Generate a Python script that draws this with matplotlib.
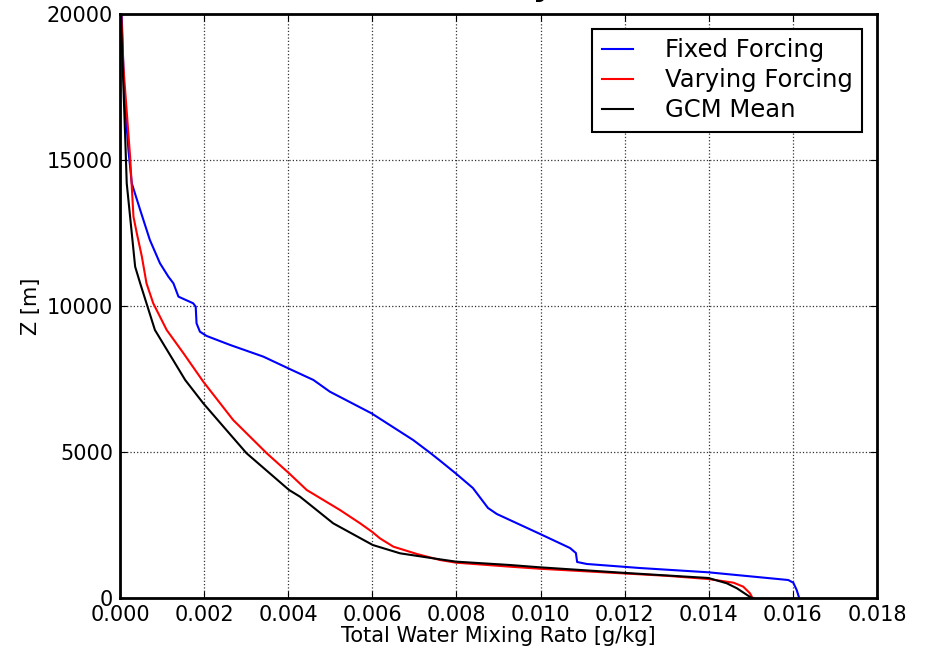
import matplotlib
matplotlib.use('Agg')
import matplotlib.pyplot as plt

# Fixed Forcing
fixed_z = [0, 274, 524, 616, 880, 1027, 1165, 1233, 1541, 1712, 2192, 2877, 3083,
           3768, 4271, 4703, 4977, 5411, 6325, 7066, 7466, 7866, 8265, 8665, 8974,
           9121, 9408, 9976, 10093, 10320, 10777, 11005, 11464, 12262, 13289, 14203,
           15344, 17290, 20000]
fixed_q = [0.01615, 0.01609, 0.01601, 0.01589, 0.01399, 0.01236, 0.01110, 0.01087,
           0.01084, 0.01070, 0.00999, 0.00896, 0.00875, 0.00839, 0.00798, 0.00761,
           0.00737, 0.00697, 0.00598, 0.00499, 0.00460, 0.00400, 0.00341, 0.00262,
           0.00206, 0.00190, 0.00182, 0.00180, 0.00174, 0.00139, 0.00127, 0.00115,
           0.00095, 0.00071, 0.00048, 0.00028, 0.00020, 0.00010, 0.00004]

# Varying Forcing
vary_z = [0, 160, 388, 524, 650, 760, 840, 920, 1000, 1073, 1210, 1301, 1507, 1758,
          2044, 2260, 2557, 3014, 3699, 4271, 4956, 6097, 7409, 8380, 9179, 10093,
          10777, 11690, 12490, 13060, 15115, 18200, 20000]
vary_q = [0.01504, 0.01498, 0.01482, 0.01459, 0.01399, 0.01300, 0.01200, 0.01100,
          0.01000, 0.00927, 0.00799, 0.00761, 0.00706, 0.00650, 0.00618, 0.00600,
          0.00571, 0.00523, 0.00444, 0.00402, 0.00349, 0.00269, 0.00198, 0.00151,
          0.00111, 0.00079, 0.00063, 0.00052, 0.00040, 0.00032, 0.00024, 0.00008,
          0.00003]

# GCM Mean
gcm_z = [0, 103, 332, 503, 685, 860, 1050, 1130, 1245, 1324, 1530, 1815, 2557, 3470,
         3699, 4956, 5868, 6668, 7466, 9179, 10777, 11347, 13060, 14203, 15930, 20000]
gcm_q = [0.01502, 0.01491, 0.01467, 0.01443, 0.01399, 0.01200, 0.00999, 0.00927,
         0.00799, 0.00761, 0.00666, 0.00601, 0.00507, 0.00428, 0.00402, 0.00301,
         0.00246, 0.00198, 0.00155, 0.00083, 0.00048, 0.00036, 0.00024, 0.00016,
         0.00012, 0.00002]

xticks = [0.000, 0.002, 0.004, 0.006, 0.008, 0.010, 0.012, 0.014, 0.016, 0.018]
yticks = [0, 5000, 10000, 15000, 20000]

fig = plt.figure(figsize=(9.29, 6.53), dpi=100)
ax = fig.add_axes([120/929, 55/653, 757/929, 584/653])

ax.plot(fixed_q, fixed_z, color='b', lw=1.5, label='Fixed Forcing')
ax.plot(vary_q, vary_z, color='r', lw=1.5, label='Varying Forcing')
ax.plot(gcm_q, gcm_z, color='k', lw=1.5, label='GCM Mean')

ax.set_xlim(0, 0.018)
ax.set_ylim(0, 20000)
ax.set_xticks(xticks)
ax.set_xticklabels(['%.3f' % t for t in xticks])
ax.set_yticks(yticks)
ax.tick_params(direction='in', length=5, labelsize=15, pad=5)
ax.tick_params(top=True, right=True)
ax.grid(True, color='#333333', linestyle=':', lw=0.9)
for s in ax.spines.values():
    s.set_linewidth(2)

ax.set_xlabel('Total Water Mixing Rato [g/kg]', fontsize=15, labelpad=1)
ax.set_ylabel('Z [m]', fontsize=15, labelpad=4)

leg = ax.legend(loc='upper right', fontsize=17.5, fancybox=False, framealpha=1,
                borderaxespad=0.6, handlelength=1.3, handletextpad=1.3,
                labelspacing=0.25, borderpad=0.4)
leg.get_frame().set_edgecolor('k')
leg.get_frame().set_linewidth(1.5)

# title cut off by the top edge
fig.text(543/929, 1.0 + 4/653, 'y', ha='center', va='baseline', fontsize=22,
         fontweight='bold')

plt.savefig('out.png')
plt.close()
